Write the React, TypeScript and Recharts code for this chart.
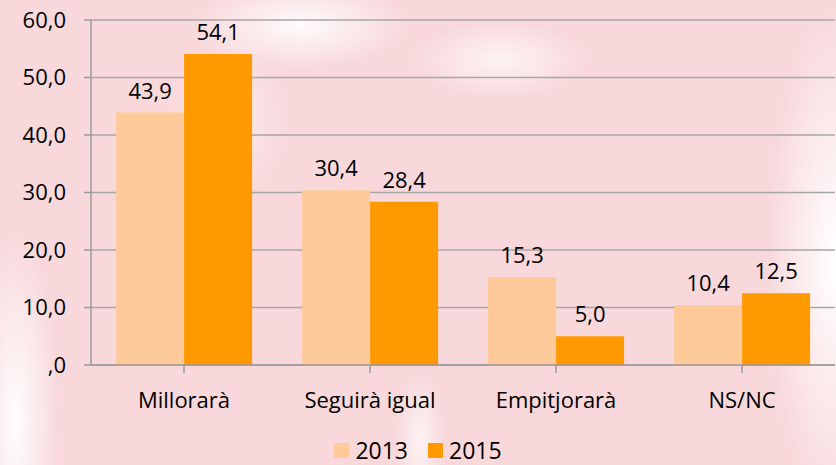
import React from 'react';
import { BarChart, Bar, XAxis, YAxis, CartesianGrid, LabelList, Legend } from 'recharts';

const categories = ['Millorarà', 'Seguirà igual', 'Empitjorarà', 'NS/NC'];
const values2013 = [43.9, 30.4, 15.3, 10.4];
const values2015 = [54.1, 28.4, 5.0, 12.5];
const yTicks = [0, 10, 20, 30, 40, 50, 60];
const seriesNames = ['2013', '2015'];
const seriesColors = ['#FFCA99', '#FF9900'];

const data = categories.map((c, i) => ({ name: c, s2013: values2013[i], s2015: values2015[i] }));

const fmt = (v: number) => (v === 0 ? ',0' : Number(v).toFixed(1).replace('.', ','));

const FONT = '"Open Sans", sans-serif';

const bg = [
  'radial-gradient(ellipse 45px 190px at 15px 420px, rgba(255,255,255,0.95), rgba(255,255,255,0) 100%)',
  'radial-gradient(ellipse 70px 260px at 836px 260px, rgba(255,255,255,1), rgba(255,255,255,0) 100%)',
  'radial-gradient(ellipse 110px 45px at 300px 25px, rgba(255,255,255,0.9), rgba(255,255,255,0) 100%)',
  'radial-gradient(ellipse 90px 40px at 500px 60px, rgba(255,255,255,0.7), rgba(255,255,255,0) 100%)',
  'radial-gradient(ellipse 25px 70px at 420px 440px, rgba(255,255,255,0.7), rgba(255,255,255,0) 100%)',
  'radial-gradient(ellipse 60px 80px at 230px 120px, rgba(255,255,255,0.5), rgba(255,255,255,0) 100%)',
  '#F8D8DB',
].join(',');

const LegendContent = () => (
  <div style={{ display: 'flex', justifyContent: 'center', alignItems: 'center', fontFamily: FONT, fontSize: 23, color: '#000', height: 22 }}>
    {seriesNames.map((n, i) => (
      <div key={n} style={{ display: 'flex', alignItems: 'center', marginRight: i === 0 ? 20 : 0 }}>
        <div style={{ width: 15, height: 15, background: seriesColors[i], marginRight: 6 }} />
        <span style={{ lineHeight: '22px' }}>{n}</span>
      </div>
    ))}
  </div>
);

export default function App() {
  return (
    <div style={{ position: 'fixed', left: 0, top: 0, width: 836, height: 465, background: bg, overflow: 'hidden' }}>
      <BarChart
        width={836}
        height={465}
        data={data}
        margin={{ top: 20, right: 1, bottom: 0, left: 0 }}
        barCategoryGap="13.5%"
        barGap={0}
      >
        <CartesianGrid vertical={false} stroke="#A6A6A6" strokeWidth={1.5} />
        <XAxis
          dataKey="name"
          height={78}
          tickSize={8}
          tickMargin={19}
          stroke="#9A9A9A"
          strokeWidth={1.5}
          tick={{ fill: '#000', fontSize: 22, fontFamily: FONT }}
          interval={0}
        />
        <YAxis
          width={91}
          domain={[0, 60]}
          ticks={yTicks}
          tickFormatter={fmt}
          tickSize={7}
          tickMargin={18}
          stroke="#9A9A9A"
          strokeWidth={1.5}
          tick={{ fill: '#000', fontSize: 22, fontFamily: FONT }}
          interval={0}
        />
        <Legend
          content={<LegendContent />}
          wrapperStyle={{ position: 'absolute', top: 439, left: 0, width: 836, height: 22 }}
        />
        <Bar dataKey="s2013" name={seriesNames[0]} fill={seriesColors[0]} isAnimationActive={false}>
          <LabelList dataKey="s2013" position="top" offset={14} formatter={fmt} style={{ fill: '#000', fontSize: 22, fontFamily: FONT }} />
        </Bar>
        <Bar dataKey="s2015" name={seriesNames[1]} fill={seriesColors[1]} isAnimationActive={false}>
          <LabelList dataKey="s2015" position="top" offset={14} formatter={fmt} style={{ fill: '#000', fontSize: 22, fontFamily: FONT }} />
        </Bar>
      </BarChart>
    </div>
  );
}
